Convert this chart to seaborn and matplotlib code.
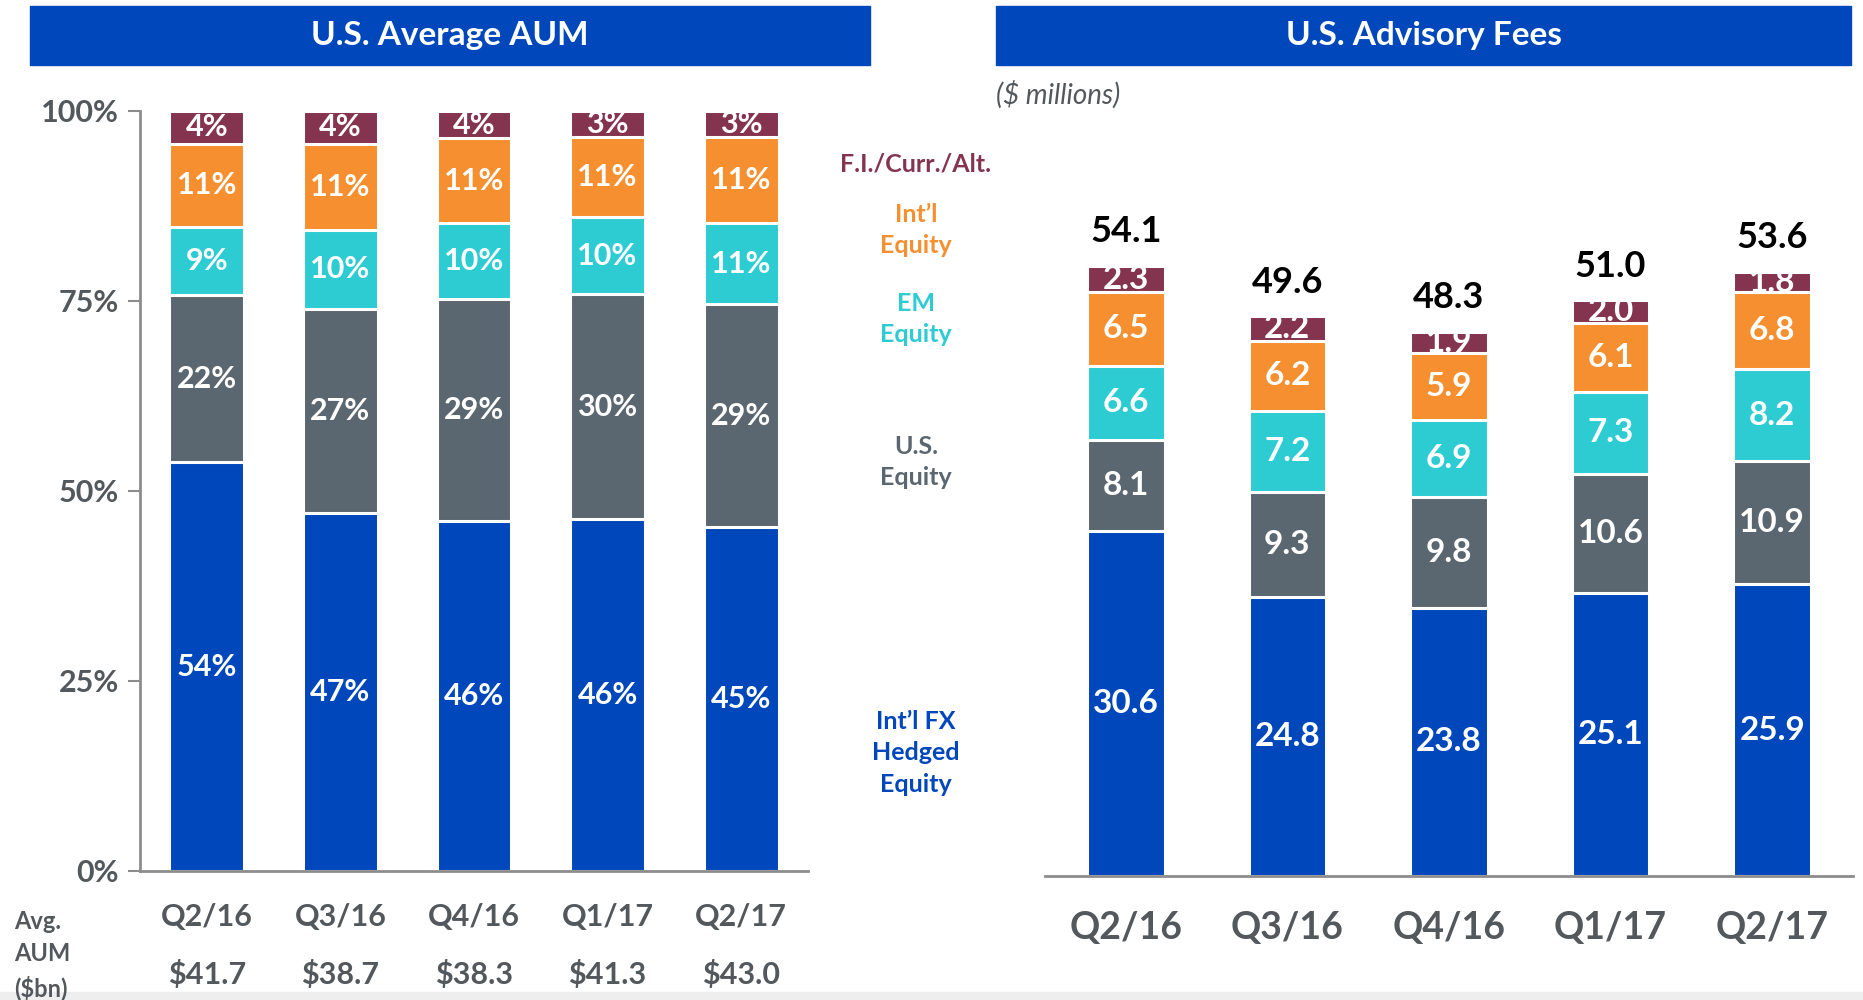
import numpy as np
import pandas as pd
import matplotlib.pyplot as plt
import matplotlib.transforms as mtransforms
from matplotlib.patches import Rectangle
import seaborn as sns

# =============================================================================
# DATA
# =============================================================================
quarters = ['Q2/16', 'Q3/16', 'Q4/16', 'Q1/17', 'Q2/17']
avg_aum = ['$41.7', '$38.7', '$38.3', '$41.3', '$43.0']

# segments, bottom to top
segments = ['fx_hedged', 'us_equity', 'em_equity', 'intl_equity', 'fi_alt']
segment_names = ['Int\u2019l FX\nHedged\nEquity', 'U.S.\nEquity', 'EM\nEquity',
                 'Int\u2019l\nEquity', 'F.I./Curr./Alt.']

# share of average AUM (%)
aum_fx_hedged = [53.8, 47.1, 46.0, 46.3, 45.2]
aum_us_equity = [22.0, 26.9, 29.2, 29.6, 29.4]
aum_em_equity = [9.0, 10.4, 10.1, 10.1, 10.6]
aum_intl_equity = [10.9, 11.3, 11.1, 10.6, 11.4]
aum_fi_alt = [4.3, 4.3, 3.6, 3.4, 3.4]

# advisory fees ($ millions)
fee_fx_hedged = [30.6, 24.8, 23.8, 25.1, 25.9]
fee_us_equity = [8.1, 9.3, 9.8, 10.6, 10.9]
fee_em_equity = [6.6, 7.2, 6.9, 7.3, 8.2]
fee_intl_equity = [6.5, 6.2, 5.9, 6.1, 6.8]
fee_fi_alt = [2.3, 2.2, 1.9, 2.0, 1.8]
fee_totals = [54.1, 49.6, 48.3, 51.0, 53.6]

# =============================================================================
# STYLE
# =============================================================================
sns.set_style('white')
plt.rcParams['font.family'] = ['Lato', 'DejaVu Sans']

BLUE = '#0047BB'
GRAY = '#5B6770'
CYAN = '#2DCCD3'
ORANGE = '#F58F2F'
MAROON = '#84344E'
TEXT_GRAY = '#53585C'
AXIS_GRAY = '#8C8C8C'

colores = dict(zip(segments, [BLUE, GRAY, CYAN, ORANGE, MAROON]))

fig = plt.figure(figsize=(18.63, 10), dpi=100)

ax1 = fig.add_axes([0.0751, 0.129, 0.3586, 0.760])
ax2 = fig.add_axes([0.5609, 0.124, 0.4337, 0.756])


def apilado(ax, columnas, fmt, ancho, tam):
    df = pd.DataFrame(dict(zip(segments, columnas)), index=quarters)
    tops = df.cumsum(axis=1)
    # tallest first, shorter bars on top -> stacked look
    for seg in segments[::-1]:
        sns.barplot(x=quarters, y=tops[seg].values, order=quarters,
                    color=colores[seg], saturation=1, width=ancho,
                    edgecolor='white', linewidth=2.2, ax=ax)
    for seg in segments:
        for i, q in enumerate(quarters):
            v = df.loc[q, seg]
            ax.text(i, tops.loc[q, seg] - v / 2, fmt.format(v),
                    ha='center', va='center', color='white',
                    fontsize=tam, fontweight='bold')


# =============================================================================
# LEFT: U.S. AVERAGE AUM
# =============================================================================
apilado(ax1, [aum_fx_hedged, aum_us_equity, aum_em_equity, aum_intl_equity, aum_fi_alt],
        '{:.0f}%', 0.56, 22)

ax1.set_xlim(-0.5, 4.5)
ax1.set_ylim(0, 100)
ax1.set_yticks([0, 25, 50, 75, 100])
ax1.set_yticklabels(['0%', '25%', '50%', '75%', '100%'])
ax1.set_xticks(range(len(quarters)))
ax1.set_xticklabels(quarters)
ax1.set_xticks(np.arange(-0.5, 5, 1), minor=True)
ax1.tick_params(axis='x', which='major', length=0, pad=23,
                labelsize=22, labelcolor=TEXT_GRAY)
ax1.tick_params(axis='x', which='minor', length=11, width=1.5,
                color=AXIS_GRAY, direction='out')
ax1.tick_params(axis='y', length=9, width=1.5, color=AXIS_GRAY,
                labelsize=22, labelcolor=TEXT_GRAY, pad=6, left=True)
for lbl in ax1.get_xticklabels() + ax1.get_yticklabels():
    lbl.set_fontweight('bold')
ax1.set_xlabel('')
ax1.set_ylabel('')
sns.despine(ax=ax1)
for s in ['left', 'bottom']:
    ax1.spines[s].set_color(AXIS_GRAY)
    ax1.spines[s].set_linewidth(2)

trans1 = mtransforms.blended_transform_factory(ax1.transData, fig.transFigure)
for i, val in enumerate(avg_aum):
    ax1.text(i, 1 - 975 / 1000, val, transform=trans1, ha='center', va='center',
             fontsize=22, fontweight='bold', color=TEXT_GRAY)
fig.text(14 / 1863, 1 - 955 / 1000, 'Avg.\nAUM\n($bn)', ha='left', va='center',
         fontsize=17, fontweight='bold', color=TEXT_GRAY, linespacing=1.5)

# =============================================================================
# RIGHT: U.S. ADVISORY FEES
# =============================================================================
apilado(ax2, [fee_fx_hedged, fee_us_equity, fee_em_equity, fee_intl_equity, fee_fi_alt],
        '{:.1f}', 0.48, 24)

for i, tot in enumerate(fee_totals):
    ax2.text(i, tot + 1.6, f'{tot:.1f}', ha='center', va='bottom',
             fontsize=26, fontweight='bold', color='black')

ax2.set_xlim(-0.5, 4.5)
ax2.set_ylim(0, 67.1)
ax2.set_yticks([])
ax2.set_xticks(range(len(quarters)))
ax2.set_xticklabels(quarters)
ax2.set_xticks(np.arange(-0.5, 5, 1), minor=True)
ax2.tick_params(axis='x', which='major', length=0, pad=25,
                labelsize=27, labelcolor=TEXT_GRAY)
ax2.tick_params(axis='x', which='minor', length=12, width=1.5,
                color=AXIS_GRAY, direction='out')
for lbl in ax2.get_xticklabels():
    lbl.set_fontweight('bold')
ax2.set_xlabel('')
ax2.set_ylabel('')
sns.despine(ax=ax2, left=True)
ax2.spines['bottom'].set_color(AXIS_GRAY)
ax2.spines['bottom'].set_linewidth(2)

fig.text(996 / 1863, 1 - 95 / 1000, '($ millions)', ha='left', va='center',
         fontsize=20, fontstyle='italic', color=TEXT_GRAY)

# =============================================================================
# BANNERS, MIDDLE LEGEND, FOOTER STRIP
# =============================================================================
fig.add_artist(Rectangle((30 / 1863, 0.935), 840 / 1863, 0.059,
                         transform=fig.transFigure, color=BLUE, zorder=0))
fig.add_artist(Rectangle((996 / 1863, 0.935), 855 / 1863, 0.059,
                         transform=fig.transFigure, color=BLUE, zorder=0))
fig.text(450 / 1863, 0.9645, 'U.S. Average AUM', ha='center', va='center',
         fontsize=24, fontweight='bold', color='white')
fig.text(1423.5 / 1863, 0.9645, 'U.S. Advisory Fees', ha='center', va='center',
         fontsize=24, fontweight='bold', color='white')

legend_y = [753, 462, 319, 230, 164]
for seg, nombre, y in zip(segments, segment_names, legend_y):
    fig.text(916 / 1863, 1 - y / 1000, nombre, ha='center', va='center',
             fontsize=18, fontweight='bold', color=colores[seg], linespacing=1.45)

fig.add_artist(Rectangle((0, 0), 1, 0.008, transform=fig.transFigure,
                         color='#EEEEEE', zorder=0))

plt.savefig('out.png', dpi=100)
